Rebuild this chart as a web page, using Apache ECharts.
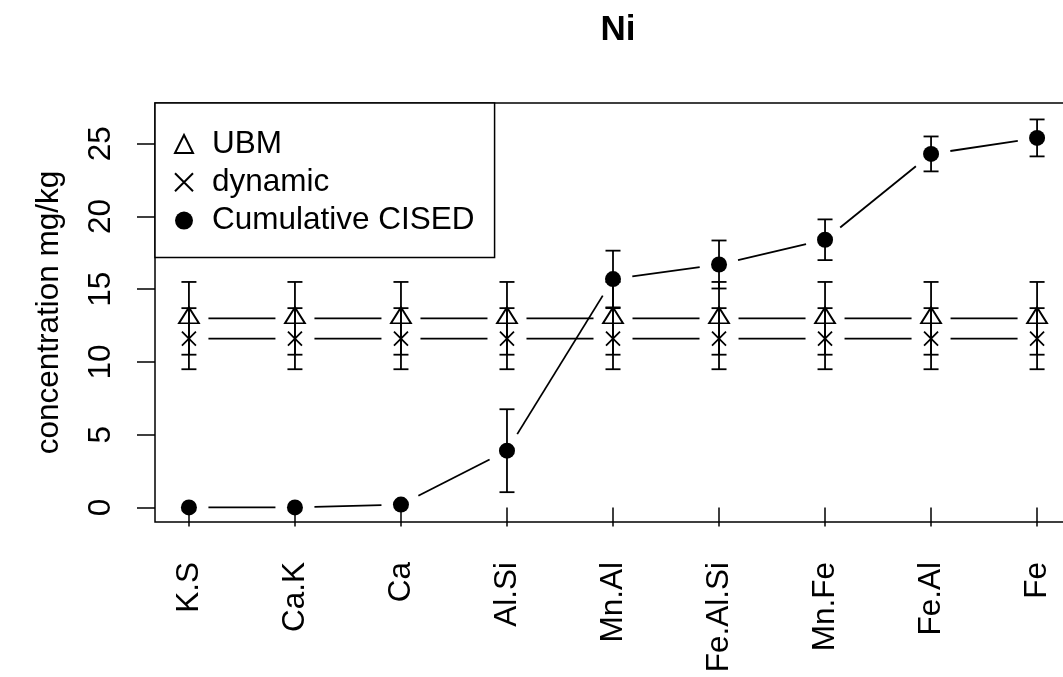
<!DOCTYPE html>
<html>
<head>
<meta charset="utf-8">
<title>Ni</title>
<script src="https://cdn.jsdelivr.net/npm/echarts@6/dist/echarts.min.js"></script>
<style>
  html, body { margin: 0; padding: 0; background: #ffffff; }
  #chart { width: 1063px; height: 677px; }
</style>
</head>
<body>
<div id="chart"></div>
<script>
// Fractions along the x axis
const categories = ['K.S', 'Ca.K', 'Ca', 'Al.Si', 'Mn.Al', 'Fe.Al.Si', 'Mn.Fe', 'Fe.Al', 'Fe'];

// UBM bioaccessible concentration (constant across fractions) and its error
const ubmMean = [13.0, 13.0, 13.0, 13.0, 13.0, 13.0, 13.0, 13.0, 13.0];
const ubmErr = [2.5, 2.5, 2.5, 2.5, 2.5, 2.5, 2.5, 2.5, 2.5];

// Dynamic extraction concentration and its error
const dynamicMean = [11.6, 11.6, 11.6, 11.6, 11.6, 11.6, 11.6, 11.6, 11.6];
const dynamicErr = [2.1, 2.1, 2.1, 2.1, 2.1, 2.1, 2.1, 2.1, 2.1];

// Cumulative CISED concentration and its error
const cisedMean = [0.0, 0.0, 0.2, 3.9, 15.7, 16.7, 18.4, 24.3, 25.4];
const cisedErr = [0, 0, 0, 2.85, 1.95, 1.65, 1.4, 1.2, 1.27];

const yTicks = [0, 5, 10, 15, 20, 25];

const FONT = '"Liberation Sans", Arial, Helvetica, sans-serif';
const FS = 31.5;     // base text size
const INK = '#000000';
const LW = 1.8;      // stroke width of lines and markers
const GAP = 19.5;    // blank space left around each point by the connecting lines
const CAP = 7.5;     // half width of the error-bar caps
const CROSS = 'path://M0 0L10 10M10 0L0 10';

const positions = categories.map((_, i) => i + 1);

// Connecting segments that stop short of each point (points-and-lines style)
function gapLine(values, id) {
  return {
    type: 'custom',
    id: id,
    silent: true,
    z: 2,
    data: values.slice(0, -1).map((v, i) => [i + 1, v, i + 2, values[i + 1]]),
    encode: { x: [0, 2], y: [1, 3] },
    renderItem: function (params, api) {
      const a = api.coord([api.value(0), api.value(1)]);
      const b = api.coord([api.value(2), api.value(3)]);
      const dx = b[0] - a[0], dy = b[1] - a[1];
      const len = Math.hypot(dx, dy);
      if (len <= 2 * GAP) return null;
      const ux = dx / len, uy = dy / len;
      return {
        type: 'line',
        shape: { x1: a[0] + ux * GAP, y1: a[1] + uy * GAP, x2: b[0] - ux * GAP, y2: b[1] - uy * GAP },
        style: { stroke: INK, lineWidth: LW }
      };
    }
  };
}

// Vertical error bars with flat caps
function errorBars(mean, err, id) {
  return {
    type: 'custom',
    id: id,
    silent: true,
    z: 4,
    data: mean.map((m, i) => [i + 1, m, err[i]]),
    encode: { x: 0, y: 1 },
    renderItem: function (params, api) {
      const x = api.value(0), m = api.value(1), e = api.value(2);
      if (!(e > 0)) return null;
      const top = api.coord([x, m + e]);
      const bot = api.coord([x, m - e]);
      const style = { stroke: INK, lineWidth: LW };
      return {
        type: 'group',
        children: [
          { type: 'line', shape: { x1: top[0], y1: top[1], x2: bot[0], y2: bot[1] }, style: style },
          { type: 'line', shape: { x1: top[0] - CAP, y1: top[1], x2: top[0] + CAP, y2: top[1] }, style: style },
          { type: 'line', shape: { x1: bot[0] - CAP, y1: bot[1], x2: bot[0] + CAP, y2: bot[1] }, style: style }
        ]
      };
    }
  };
}

function points(values) {
  return values.map((v, i) => [i + 1, v]);
}

const chart = echarts.init(document.getElementById('chart'), null, { renderer: 'canvas' });

chart.setOption({
  animation: false,
  backgroundColor: '#ffffff',
  textStyle: { fontFamily: FONT, color: INK },
  title: {
    text: 'Ni',
    left: 613,
    top: 8,
    textAlign: 'center',
    textStyle: { fontFamily: FONT, fontSize: 35, fontWeight: 'bold', color: INK }
  },
  legend: {
    left: 155,
    top: 103,
    orient: 'vertical',
    selectedMode: false,
    data: [
      { name: 'UBM', icon: 'triangle' },
      { name: 'dynamic', icon: CROSS },
      { name: 'Cumulative CISED', icon: 'circle' }
    ],
    itemWidth: 18,
    itemHeight: 18,
    itemGap: 6.3,
    padding: [25, 20, 21, 19],
    borderColor: INK,
    borderWidth: 1.5,
    borderRadius: 0,
    backgroundColor: '#ffffff',
    textStyle: { fontFamily: FONT, fontSize: FS, color: INK, padding: [0, 0, 0, 14] }
  },
  grid: {
    left: 155,
    top: 103,
    right: -8,
    bottom: 155,
    show: true,
    borderColor: INK,
    borderWidth: 1.5,
    backgroundColor: 'transparent',
    containLabel: false,
    outerBoundsMode: 'none'
  },
  xAxis: {
    type: 'value',
    min: 0.68,
    max: 9.32,
    axisLine: { show: false },
    splitLine: { show: false },
    axisTick: {
      show: true,
      customValues: positions,
      length: 19,
      lineStyle: { color: INK, width: 1.5 }
    },
    axisLabel: {
      customValues: positions,
      formatter: function (v) { return categories[Math.round(v) - 1]; },
      rotate: 90,
      margin: 40,
      fontFamily: FONT,
      fontSize: FS,
      color: INK
    }
  },
  yAxis: {
    type: 'value',
    min: -1.0,
    max: 27.8,
    name: 'concentration mg/kg',
    nameLocation: 'middle',
    nameRotate: 90,
    nameGap: 90,
    nameTextStyle: { fontFamily: FONT, fontSize: FS, color: INK },
    axisLine: { show: false },
    splitLine: { show: false },
    axisTick: {
      show: true,
      customValues: yTicks,
      length: 18,
      lineStyle: { color: INK, width: 1.5 }
    },
    axisLabel: {
      customValues: yTicks,
      rotate: 90,
      margin: 38,
      fontFamily: FONT,
      fontSize: FS,
      color: INK
    }
  },
  series: [
    gapLine(ubmMean, 'ubm-line'),
    gapLine(dynamicMean, 'dynamic-line'),
    gapLine(cisedMean, 'cised-line'),
    {
      type: 'scatter',
      name: 'UBM',
      silent: true,
      z: 3,
      data: points(ubmMean),
      symbol: 'triangle',
      symbolSize: [20, 16],
      symbolOffset: [0, -3],
      itemStyle: { color: '#ffffff', borderColor: INK, borderWidth: LW, opacity: 1 }
    },
    {
      type: 'scatter',
      name: 'dynamic',
      silent: true,
      z: 3,
      data: points(dynamicMean),
      symbol: CROSS,
      symbolSize: 14,
      itemStyle: { color: 'rgba(0,0,0,0)', borderColor: INK, borderWidth: LW, opacity: 1 }
    },
    {
      type: 'scatter',
      name: 'Cumulative CISED',
      silent: true,
      z: 3,
      data: points(cisedMean),
      symbol: 'circle',
      symbolSize: 16,
      itemStyle: { color: INK, borderWidth: 0, opacity: 1 }
    },
    errorBars(ubmMean, ubmErr, 'ubm-err'),
    errorBars(dynamicMean, dynamicErr, 'dynamic-err'),
    errorBars(cisedMean, cisedErr, 'cised-err')
  ]
});
</script>
</body>
</html>
